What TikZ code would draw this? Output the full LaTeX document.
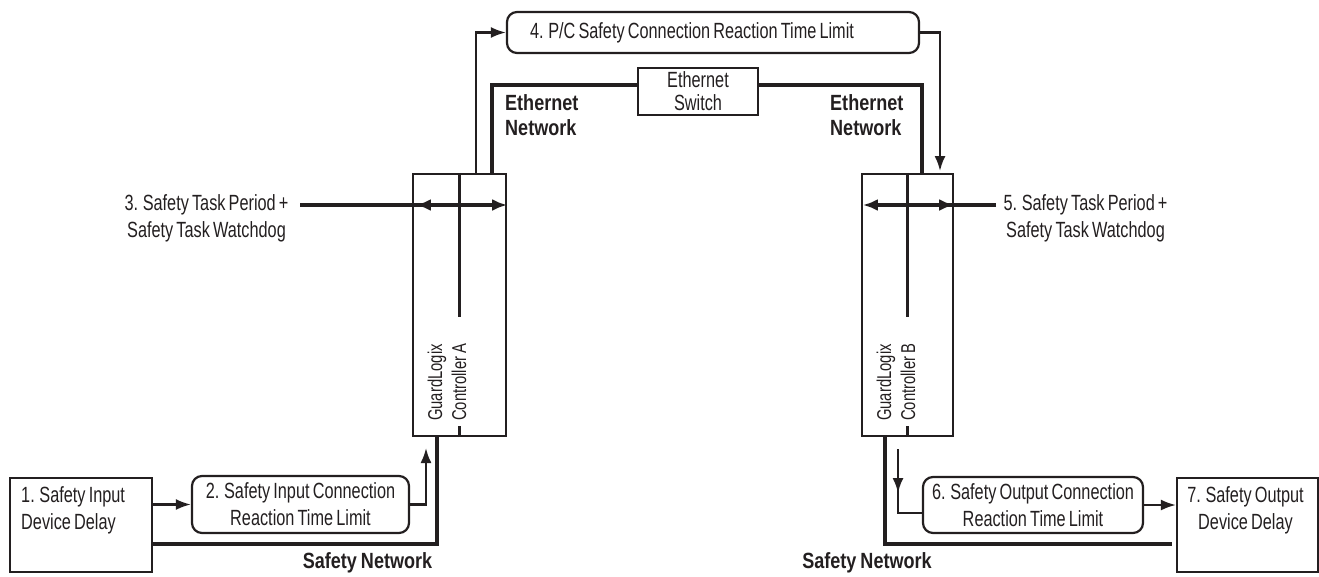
\documentclass[tikz,border=0pt]{standalone}
\usepackage{fontspec}
\setmainfont{Liberation Sans}[FakeStretch=0.74, WordSpace=0.7]
\newfontfamily\netfont{Liberation Sans}[FakeStretch=0.82, WordSpace=0.8]
\usetikzlibrary{positioning, arrows.meta, decorations.markings}
\definecolor{ink}{HTML}{231F20}

\begin{document}
\begin{tikzpicture}[x=1pt, y=-1pt, ink, font=\fontsize{22}{27}\selectfont,
	box/.style={draw=ink, line width=2.2pt, inner sep=0pt, align=center},
	rbox/.style={box, rounded corners=10pt},
	ctrl/.style={box, minimum width=93pt, minimum height=262pt},
	txt/.style={inner sep=0pt, align=center, text=ink},
	lbl/.style={txt, align=left, font=\netfont\bfseries\fontsize{22}{25}\selectfont},
	net/.style={line width=4.2pt},
	ln/.style={line width=2.2pt},
	arr/.style={line width=2.2pt, -{Latex[length=15pt, width=11pt]}},
	tk/.style={line width=3.2pt, -{Latex[length=15pt, width=12pt]}}]
	\useasboundingbox (0,0) rectangle (1319,576);

	% controllers
	\node[ctrl] (cA) at (459.5,305) {};
	\node[ctrl, minimum width=91pt] (cB) at (907.5,305) {};
	\draw[ln] (cA.north) -- ++(0,144);
	\draw[ln] (cA.south) -- ++(0,-11);
	\draw[ln] (cB.north) -- ++(0,144);
	\draw[ln] (cB.south) -- ++(0,-11);
	\node[txt, rotate=90, anchor=west, align=left, font=\fontsize{20}{24}\selectfont] (nA) at (447,421) {GuardLogix\\Controller A};
	\node[txt, rotate=90, anchor=west, align=left, font=\fontsize{20}{24}\selectfont] (nB) at (896,421) {GuardLogix\\Controller B};

	% ethernet side
	\node[rbox, text width=366pt, inner xsep=23pt, minimum height=41pt, align=flush left] (b4) at (713,32.5) {4. P/C Safety Connection Reaction Time Limit};
	\node[box, minimum width=120pt, minimum height=47pt, font=\fontsize{22}{23}\selectfont] (sw) at (698,91.5) {Ethernet\\Switch};
	\node[lbl, anchor=west] (eL) at (505,115.5) {Ethernet\\Network};
	\node[lbl, anchor=west] (eR) at (830,115.5) {Ethernet\\Network};

	\coordinate (eA) at (492,85);
	\coordinate (eB) at (922,85);
	\draw[net] (eA |- cA.north) -- (eA) -- (eA -| sw.west);
	\draw[net] (sw.east |- eB) -- (eB) -- (eB |- cB.north);

	\coordinate (uA) at (476,0);
	\coordinate (dB) at (940,171);
	\draw[arr] (uA |- cA.north) |- (b4.west);
	\draw[arr] (b4.east) -| (dB);

	% task period
	\node[txt] (t3) at (206.5,218.5) {3. Safety Task Period +\\Safety Task Watchdog};
	\node[txt] (t5) at (1085.5,218.5) {5. Safety Task Period +\\Safety Task Watchdog};
	\coordinate (a3) at (300,205);
	\coordinate (a5) at (996,205);
	\draw[tk] (a3) -- (a3 -| cA.east);
	\draw[tk, shorten >=4pt] (a3 -| cA.center) -- (a3 -| cA.west);
	\draw[tk, shorten >=2pt] (a5) -- (a5 -| cB.west);
	\draw[tk] (a5 -| cB.center) -- (a5 -| cB.east);

	% input side
	\node[box, minimum width=142pt, minimum height=94pt] (b1) at (81,525) {};
	\node[txt, anchor=north west, align=left] (t1) at (21,486) {1. Safety Input\\Device Delay};
	\node[rbox, minimum width=217pt, minimum height=57pt] (b2) at (300.5,504.5) {2. Safety Input Connection\\Reaction Time Limit};
	\draw[arr] (b2.west -| b1.east) -- (b2.west);
	\coordinate (tA) at (426,448);
	\draw[arr] (b2.east) -| (tA);
	\coordinate (sA) at (437,544);
	\draw[net] (sA -| b1.east) -- (sA) -- (sA |- cA.south);
	\node[lbl] (nL) at (367.5,563) {Safety Network};

	% output side
	\node[box, minimum width=141pt, minimum height=94pt] (b7) at (1247.5,525) {};
	\node[txt, anchor=north] (t7) at (1245.5,486) {7. Safety Output\\Device Delay};
	\node[rbox, minimum width=220pt, minimum height=56pt] (b6) at (1033,505) {6. Safety Output Connection\\Reaction Time Limit};
	\draw[arr] (b6.east) -- (b6.east -| b7.west);
	\coordinate (oB) at (898,449);
	\coordinate (oC) at (898,513);
	\draw[line width=2.2pt, postaction=decorate, decoration={markings, mark=at position 44pt with {\arrow{Latex[length=15pt, width=11pt]}}}] (oB) -- (oC) -- (oC -| b6.west);
	\coordinate (sB) at (885,544);
	\draw[net] (sB |- cB.south) -- (sB) -- ([xshift=-4pt]sB -| b7.west);
	\node[lbl] (nR) at (867,563) {Safety Network};
\end{tikzpicture}
\end{document}
